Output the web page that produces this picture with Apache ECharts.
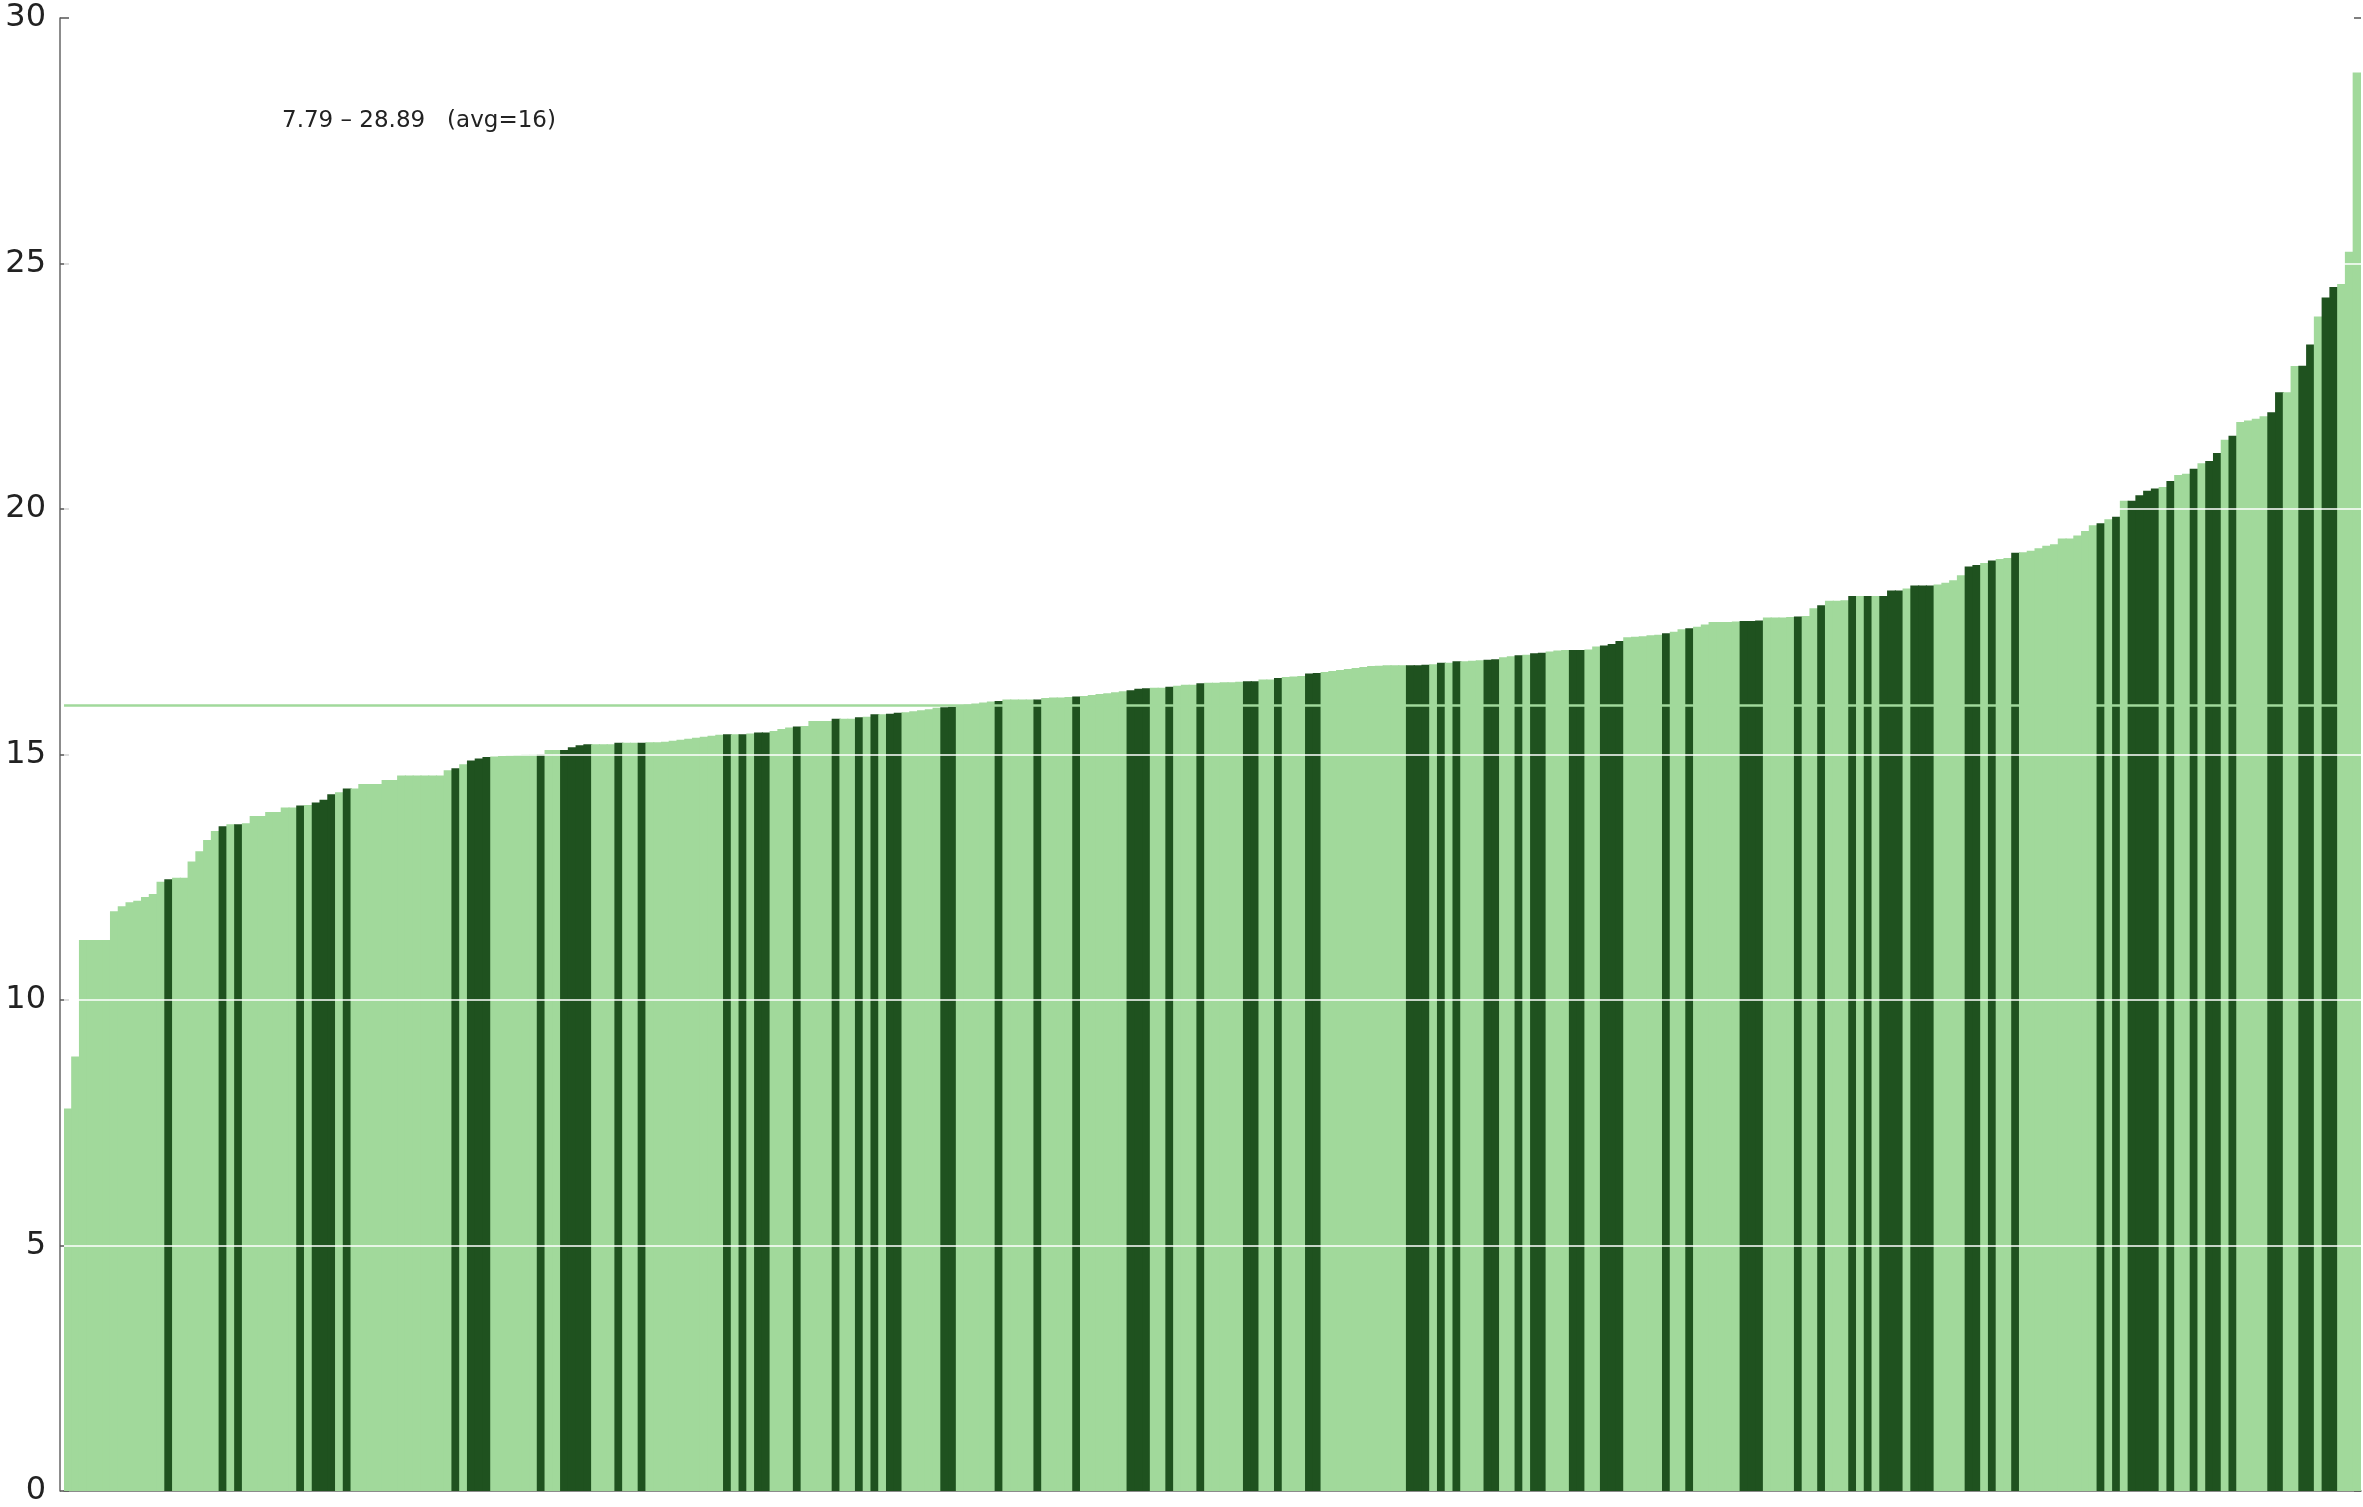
<!DOCTYPE html>
<html>
<head>
<meta charset="utf-8">
<script src="https://cdn.jsdelivr.net/npm/echarts@6/dist/echarts.min.js"></script>
<style>
html,body{margin:0;padding:0;background:#fff;}
#chart{width:2363px;height:1507px;}
</style>
</head>
<body>
<div id="chart"></div>
<script>
// Sorted values (ascending)
const values = [
 7.79, 8.85, 11.22, 11.22, 11.22, 11.22, 11.81, 11.91, 11.99, 12.02,
 12.10, 12.16, 12.41, 12.46, 12.49, 12.49, 12.82, 13.03, 13.26, 13.44,
 13.54, 13.58, 13.58, 13.60, 13.75, 13.75, 13.83, 13.83, 13.92, 13.92,
 13.96, 13.97, 14.02, 14.08, 14.19, 14.23, 14.31, 14.31, 14.40, 14.40,
 14.40, 14.48, 14.48, 14.57, 14.57, 14.57, 14.57, 14.57, 14.57, 14.68,
 14.72, 14.80, 14.88, 14.92, 14.95, 14.96, 14.97, 14.98, 14.99, 15.00,
 15.00, 15.00, 15.09, 15.09, 15.09, 15.15, 15.19, 15.21, 15.21, 15.21,
 15.21, 15.24, 15.24, 15.24, 15.24, 15.25, 15.25, 15.26, 15.28, 15.30,
 15.32, 15.34, 15.36, 15.38, 15.40, 15.41, 15.41, 15.41, 15.43, 15.45,
 15.45, 15.48, 15.52, 15.55, 15.57, 15.58, 15.68, 15.68, 15.68, 15.73,
 15.73, 15.73, 15.76, 15.77, 15.82, 15.82, 15.83, 15.85, 15.86, 15.88,
 15.90, 15.92, 15.95, 15.96, 15.97, 16.00, 16.02, 16.04, 16.06, 16.08,
 16.09, 16.12, 16.12, 16.12, 16.12, 16.12, 16.15, 16.16, 16.16, 16.17,
 16.18, 16.19, 16.21, 16.23, 16.25, 16.27, 16.29, 16.31, 16.34, 16.35,
 16.36, 16.36, 16.38, 16.40, 16.42, 16.42, 16.45, 16.46, 16.46, 16.47,
 16.47, 16.48, 16.49, 16.49, 16.53, 16.53, 16.56, 16.58, 16.59, 16.60,
 16.65, 16.66, 16.68, 16.70, 16.72, 16.74, 16.76, 16.78, 16.80, 16.81,
 16.82, 16.82, 16.82, 16.82, 16.82, 16.83, 16.84, 16.87, 16.87, 16.90,
 16.90, 16.91, 16.92, 16.93, 16.94, 16.98, 17.00, 17.02, 17.03, 17.06,
 17.07, 17.10, 17.12, 17.13, 17.13, 17.13, 17.14, 17.20, 17.22, 17.25,
 17.31, 17.39, 17.40, 17.41, 17.43, 17.44, 17.47, 17.50, 17.55, 17.57,
 17.60, 17.65, 17.70, 17.70, 17.70, 17.71, 17.72, 17.72, 17.73, 17.79,
 17.79, 17.79, 17.80, 17.81, 17.82, 17.98, 18.04, 18.13, 18.13, 18.14,
 18.23, 18.23, 18.23, 18.23, 18.23, 18.34, 18.34, 18.38, 18.44, 18.44,
 18.44, 18.46, 18.50, 18.55, 18.65, 18.83, 18.86, 18.90, 18.95, 18.98,
 19.00, 19.11, 19.12, 19.15, 19.20, 19.25, 19.28, 19.40, 19.40, 19.46,
 19.55, 19.67, 19.71, 19.79, 19.84, 20.17, 20.17, 20.28, 20.37, 20.42,
 20.45, 20.57, 20.69, 20.72, 20.82, 20.93, 20.98, 21.14, 21.41, 21.49,
 21.77, 21.80, 21.84, 21.89, 21.97, 22.38, 22.38, 22.91, 22.92, 23.35,
 23.92, 24.31, 24.52, 24.58, 25.24, 28.89
];
// Indices of the highlighted (dark) bars
const highlighted = [
 13, 20, 22, 30, 32, 33, 34, 36, 50, 52, 53, 54, 61, 64, 65, 66, 67, 71, 74,
 85, 87, 89, 90, 94, 99, 102, 104, 106, 107, 113, 114, 120, 125, 130, 137, 138,
 139, 142, 146, 152, 153, 156, 160, 161, 173, 174, 175, 177, 179, 183, 184, 187,
 189, 190, 194, 195, 198, 199, 200, 206, 209, 216, 217, 218, 223, 226, 230, 232,
 234, 235, 236, 238, 239, 240, 245, 246, 248, 251, 262, 264, 266, 267, 268, 269,
 271, 274, 276, 277, 279, 284, 285, 288, 289, 291, 292
];
const yTicks = [0, 5, 10, 15, 20, 25, 30];
const gridLevels = [5, 10, 15, 20, 25];
const avgValue = 16;
const annotation = '7.79 \u2013 28.89   (avg=16)';

const LIGHT = '#a1d99b';
const DARK = '#1f521f';
const darkSet = new Set(highlighted);
const categories = values.map((_, i) => String(i + 1));
const barData = values.map((v, i) => ({
  value: v, itemStyle: { color: darkSet.has(i) ? DARK : LIGHT }
}));

const chart = echarts.init(document.getElementById('chart'), null, { renderer: 'canvas' });
chart.setOption({
  animation: false,
  backgroundColor: '#ffffff',
  grid: { left: 64, right: 2, top: 18, bottom: 11, containLabel: false },
  graphic: [{
    type: 'text', left: 282, top: 110,
    style: { text: annotation, font: '23px "DejaVu Sans"', fill: '#222' }
  }],
  xAxis: {
    type: 'category', data: categories, boundaryGap: true,
    axisLine: { show: true, lineStyle: { color: '#666', width: 1.5 } },
    axisTick: { show: false }, axisLabel: { show: false }, splitLine: { show: false }
  },
  yAxis: [{
    type: 'value', min: 0, max: 30, interval: 5, offset: 4,
    axisLine: { show: true, lineStyle: { color: '#666', width: 1.5 } },
    axisTick: { show: true, inside: true, length: 9, lineStyle: { color: '#555', width: 1.5 } },
    axisLabel: { show: true, margin: 14, fontSize: 32, fontFamily: 'DejaVu Sans', color: '#222',
      formatter: v => yTicks.includes(v) ? String(v) : '' },
    splitLine: { show: false }
  }, {
    type: 'value', min: 0, max: 30, interval: 5, position: 'right',
    axisLine: { show: false },
    axisTick: { show: true, inside: true, length: 7, lineStyle: { color: '#555', width: 1.5 } },
    axisLabel: { show: false }, splitLine: { show: false }
  }],
  series: [{
    type: 'bar', data: barData, barWidth: '115%', barGap: '0%',
    yAxisIndex: 0,
    markLine: {
      silent: true, symbol: ['none', 'none'], label: { show: false },
      data: gridLevels.map(l => ({ yAxis: l, lineStyle: { color: '#ffffff', width: 1.5, type: 'solid' } }))
        .concat([{ yAxis: avgValue, lineStyle: { color: LIGHT, width: 2.5, type: 'solid' } }])
    }
  }]
});
</script>
</body>
</html>
